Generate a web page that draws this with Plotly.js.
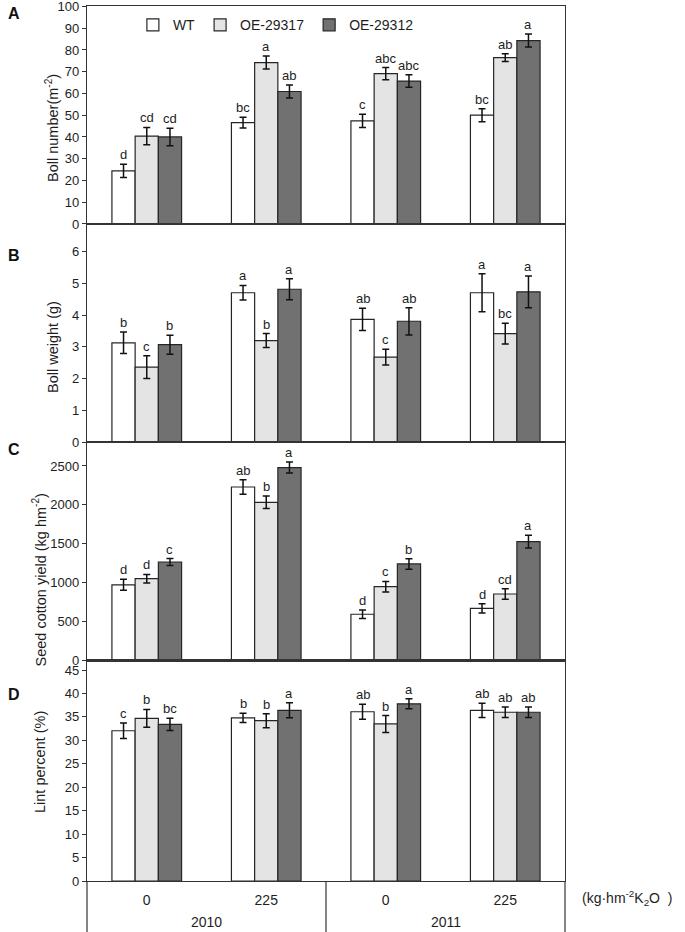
<!DOCTYPE html>
<html><head><meta charset="utf-8">
<script src="https://cdn.plot.ly/plotly-3.0.1.min.js"></script>
<style>html,body{margin:0;padding:0;background:#fff}#chart{width:685px;height:932px}</style>
</head><body><div id="chart"></div>
<script>
// ---------- data ----------
const years = ["2010", "2010", "2011", "2011"];
const doses = ["0", "225", "0", "225"];
const yearLabels = ["2010", "2011"];
const genotypes = ["WT", "OE-29317", "OE-29312"];

// Panel A: Boll number (m-2)
const bollNumWT = [24.4, 46.6, 47.4, 50.0];
const bollNumWTErr = [3.0, 2.5, 3.0, 3.0];
const bollNum17 = [40.4, 74.2, 69.1, 76.5];
const bollNum17Err = [4.0, 3.0, 2.8, 1.8];
const bollNum12 = [40.0, 60.9, 65.7, 84.3];
const bollNum12Err = [4.0, 3.0, 2.9, 3.0];
const bollNumLetWT = ["d", "bc", "c", "bc"];
const bollNumLet17 = ["cd", "a", "abc", "ab"];
const bollNumLet12 = ["cd", "ab", "abc", "a"];

// Panel B: Boll weight (g)
const bollWtWT = [3.13, 4.71, 3.87, 4.71];
const bollWtWTErr = [0.34, 0.23, 0.35, 0.60];
const bollWt17 = [2.36, 3.20, 2.68, 3.42];
const bollWt17Err = [0.36, 0.22, 0.25, 0.33];
const bollWt12 = [3.07, 4.82, 3.81, 4.74];
const bollWt12Err = [0.30, 0.33, 0.43, 0.50];
const bollWtLetWT = ["b", "a", "ab", "a"];
const bollWtLet17 = ["c", "b", "c", "bc"];
const bollWtLet12 = ["b", "a", "ab", "a"];

// Panel C: Seed cotton yield (kg hm-2)
const yieldWT = [974, 2230, 596, 672];
const yieldWTErr = [70, 92, 55, 60];
const yield17 = [1053, 2034, 950, 856];
const yield17Err = [55, 80, 68, 68];
const yield12 = [1267, 2480, 1242, 1528];
const yield12Err = [45, 70, 68, 82];
const yieldLetWT = ["d", "ab", "d", "d"];
const yieldLet17 = ["d", "b", "c", "cd"];
const yieldLet12 = ["c", "a", "b", "a"];

// Panel D: Lint percent (%)
const lintWT = [32.05, 34.8, 36.1, 36.4];
const lintWTErr = [1.65, 1.0, 1.6, 1.5];
const lint17 = [34.7, 34.2, 33.5, 36.0];
const lint17Err = [1.9, 1.5, 1.8, 1.1];
const lint12 = [33.4, 36.4, 37.8, 36.0];
const lint12Err = [1.3, 1.6, 1.07, 1.1];
const lintLetWT = ["c", "b", "ab", "ab"];
const lintLet17 = ["b", "b", "b", "ab"];
const lintLet12 = ["bc", "a", "a", "ab"];

const yTicksA = [0, 10, 20, 30, 40, 50, 60, 70, 80, 90, 100];
const yTicksB = [0, 1, 2, 3, 4, 5, 6];
const yTicksC = [0, 500, 1000, 1500, 2000, 2500];
const yTicksD = [0, 5, 10, 15, 20, 25, 30, 35, 40, 45];

// ---------- build ----------
const FONT = "Liberation Sans, Arial, sans-serif";
const TXT = "#1e1e1e";
const fills = ["#ffffff", "#e4e4e4", "#717171"];
const edge = "#262626";
const bargap = 0.417;
const barW = (1 - bargap) / 3;
const xCats = years.map((y, i) => y + "|" + doses[i]);

const panels = [
  {key: "", vals: [bollNumWT, bollNum17, bollNum12], errs: [bollNumWTErr, bollNum17Err, bollNum12Err], lets: [bollNumLetWT, bollNumLet17, bollNumLet12], range: [0, 100.2], ticks: yTicksA, title: "Boll number(m<sup>-2</sup>)", dom: [0.7509, 1], letter: "A", ly: 0.992, tx: -0.0732, ty: 0.8606},
  {key: "2", vals: [bollWtWT, bollWt17, bollWt12], errs: [bollWtWTErr, bollWt17Err, bollWt12Err], lets: [bollWtLetWT, bollWtLet17, bollWtLet12], range: [0, 6.88], ticks: yTicksB, title: "Boll weight (g)", dom: [0.5017, 0.7509], letter: "B", ly: 0.7154, tx: -0.0711, ty: 0.6103},
  {key: "3", vals: [yieldWT, yield17, yield12], errs: [yieldWTErr, yield17Err, yield12Err], lets: [yieldLetWT, yieldLet17, yieldLet12], range: [0, 2808], ticks: yTicksC, title: "Seed cotton yield (kg hm<sup>-2</sup>)", dom: [0.2518, 0.5017], letter: "C", ly: 0.4937, tx: -0.0994, ty: 0.344},
  {key: "4", vals: [lintWT, lint17, lint12], errs: [lintWTErr, lint17Err, lint12Err], lets: [lintLetWT, lintLet17, lintLet12], range: [0, 47], ticks: yTicksD, title: "Lint percent (%)", dom: [0, 0.2518], letter: "D", ly: 0.2126, tx: -0.0983, ty: 0.136}
];

const traces = [];
const annotations = [];
const shapes = [];
const layout = {
  width: 685, height: 932,
  margin: {l: 87, r: 120, t: 6, b: 51},
  paper_bgcolor: "#fff", plot_bgcolor: "#fff",
  barmode: "group", bargap: bargap, bargroupgap: 0,
  font: {family: FONT, size: 13, color: TXT},
  showlegend: true,
  legend: {orientation: "h", x: 0.096, y: 0.978, xanchor: "left", yanchor: "middle",
           font: {family: FONT, size: 14, color: TXT}, bgcolor: "rgba(0,0,0,0)", traceorder: "normal"},
  annotations: annotations,
  shapes: shapes
};

panels.forEach((p, pi) => {
  const xa = "x" + p.key, ya = "y" + p.key;
  genotypes.forEach((g, gi) => {
    traces.push({
      type: "bar", name: g, x: xCats, y: p.vals[gi],
      xaxis: xa, yaxis: ya, showlegend: pi === 0, legendgroup: g,
      marker: {color: fills[gi], line: {color: edge, width: 1.2}},
      error_y: {type: "data", array: p.errs[gi], visible: true, color: "#111", thickness: 1.5, width: 3.5},
      hoverinfo: "y"
    });
    p.vals[gi].forEach((v, ci) => {
      annotations.push({
        xref: "paper", yref: ya,
        x: (ci + 0.5 + (gi - 1) * barW) / 4,
        y: v + p.errs[gi][ci],
        text: p.lets[gi][ci], showarrow: false,
        xanchor: "center", yanchor: "bottom",
        font: {family: FONT, size: 13, color: TXT}
      });
    });
  });
  const last = pi === panels.length - 1;
  layout["xaxis" + p.key] = {
    type: "category", anchor: ya, range: [-0.5, 3.5],
    tickmode: "array", tickvals: xCats, ticktext: doses,
    showline: true, mirror: true, linecolor: "#333", linewidth: 1.2,
    ticks: "", showgrid: false, zeroline: false,
    showticklabels: last, ticklabelstandoff: 6,
    tickfont: {family: FONT, size: 14, color: TXT}
  };
  layout["yaxis" + p.key] = {
    domain: p.dom, anchor: xa, range: p.range,
    tickmode: "array", tickvals: p.ticks,
    showline: true, mirror: true, linecolor: "#333", linewidth: 1.2,
    ticks: "outside", ticklen: 4, tickcolor: "#333", tickwidth: 1,
    showgrid: false, zeroline: false, ticklabeloverflow: "allow",
    tickfont: {family: FONT, size: 13, color: TXT}
  };
  // y-axis title
  annotations.push({
    xref: "paper", yref: "paper", x: p.tx, y: p.ty, textangle: -90,
    text: p.title, showarrow: false, xanchor: "center", yanchor: "middle",
    font: {family: FONT, size: 14.5, color: TXT}
  });
  // panel letter
  annotations.push({
    xref: "paper", yref: "paper", x: -0.152, y: p.ly,
    text: "<b>" + p.letter + "</b>", showarrow: false,
    xanchor: "center", yanchor: "middle",
    font: {family: FONT, size: 16, color: "#111"}
  });
});

// year group labels below the dose labels
yearLabels.forEach((yr, k) => {
  annotations.push({
    xref: "paper", yref: "paper", x: (2 * k + 1) / 4, y: -0.0469,
    text: yr, showarrow: false, xanchor: "center", yanchor: "middle",
    font: {family: FONT, size: 14, color: TXT}
  });
});
// group dividers (left edge, between years, right edge)
[0, 0.5, 1].forEach(xp => {
  shapes.push({type: "line", xref: "paper", yref: "paper", x0: xp, x1: xp, y0: 0, y1: -0.06,
               line: {color: "#333", width: 1.2}});
});

annotations.push({
  xref: "paper", yref: "paper", x: 1.031, y: -0.0194,
  text: "(kg·hm<sup>-2</sup>K<sub>2</sub>O&nbsp;&nbsp;)", showarrow: false,
  xanchor: "left", yanchor: "middle",
  font: {family: FONT, size: 14, color: TXT}
});

Plotly.newPlot("chart", traces, layout, {displayModeBar: false, staticPlot: true});
</script>
</body></html>
